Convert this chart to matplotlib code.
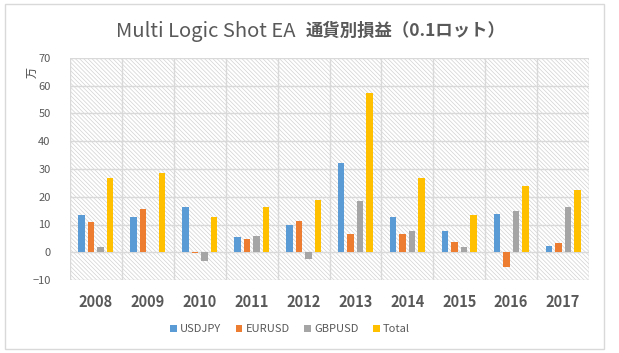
import matplotlib
matplotlib.use("Agg")
import matplotlib.pyplot as plt
import matplotlib.patches as patches
from matplotlib.ticker import FixedLocator
import numpy as np

plt.rcParams['font.family'] = ['Noto Sans CJK JP', 'DejaVu Sans']
plt.rcParams['hatch.linewidth'] = 0.5
plt.rcParams['hatch.color'] = '#d2d2d2'

years = ['2008', '2009', '2010', '2011', '2012', '2013', '2014', '2015', '2016', '2017']
usdjpy = [13.4, 12.8, 16.4, 5.5, 9.7, 32.2, 12.8, 7.7, 13.8, 2.3]
eurusd = [10.9, 15.5, -0.4, 4.7, 11.2, 6.5, 6.5, 3.7, -5.4, 3.4]
gbpusd = [1.9, 0.0, -3.1, 5.8, -2.5, 18.4, 7.7, 1.9, 14.9, 16.4]
total = [26.6, 28.4, 12.7, 16.4, 18.8, 57.5, 26.8, 13.5, 23.9, 22.5]

series = [('USDJPY', usdjpy, '#5B9BD5'),
          ('EURUSD', eurusd, '#ED7D31'),
          ('GBPUSD', gbpusd, '#A5A5A5'),
          ('Total', total, '#FFC000')]

W, H = 619, 353
fig = plt.figure(figsize=(W/100, H/100), dpi=100)
fig.patch.set_facecolor('white')
ax = fig.add_axes([70/W, 1-280/H, (589-70)/W, (280-58)/H])

# hatched background of the plot area
bg = patches.Rectangle((0, 0), 1, 1, transform=ax.transAxes, facecolor='white',
                       edgecolor='#d2d2d2', hatch='\\'*8, linewidth=0, zorder=0)
ax.add_patch(bg)

x = np.arange(len(years))
bw = 0.125
step = 0.183
for i, (name, vals, col) in enumerate(series):
    ax.bar(x + (i-1.5)*step, vals, bw, color=col, label=name, zorder=3)

ax.set_xlim(-0.5, 9.5)
ax.set_ylim(-10, 70)
ax.set_yticks(range(-10, 71, 10))
ax.set_xticks(x)
ax.set_xticklabels(years, fontsize=10.5, fontweight='bold', color='#595959')
ax.xaxis.set_minor_locator(FixedLocator(np.arange(-0.5, 10, 1)))
ax.tick_params(axis='y', labelsize=8, colors='#595959', length=0, pad=14)
ax.tick_params(axis='x', which='both', length=0, pad=10)
ax.grid(axis='y', color='#d9d9d9', linewidth=1, zorder=1)
ax.grid(axis='x', which='minor', color='#d9d9d9', linewidth=1, zorder=1)
ax.grid(axis='x', which='major', visible=False)
for s in ax.spines.values():
    s.set_visible(False)

fig.text(33/W, 1-72/H, '万', rotation=90, fontsize=8, color='#404040',
         ha='center', va='center')

fig.text(116/W, 1-31/H, 'Multi Logic Shot EA', fontsize=14.5, color='#595959',
         ha='left', va='center')
fig.text(306/W, 1-31/H, '通貨別損益（0.1ロット）', fontsize=12.5, color='#595959',
         fontweight='bold', ha='left', va='center')

fig.legend(loc='center', bbox_to_anchor=(290/W, 1-329/H), ncol=4, frameon=False,
           fontsize=8, handlelength=0.6, handleheight=0.6, handletextpad=0.3,
           columnspacing=1.3, labelcolor='#595959')

border = patches.Rectangle((5/W, 1-349/H), 599/W, 345/H, transform=fig.transFigure,
                           fill=False, edgecolor='#d9d9d9', linewidth=1)
fig.patches.append(border)

fig.savefig('out.png', dpi=100)
